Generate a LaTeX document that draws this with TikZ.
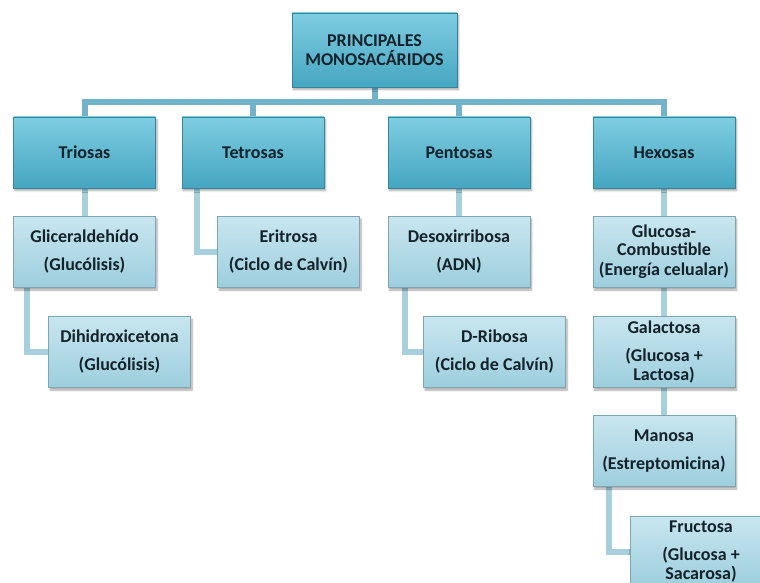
\documentclass[tikz,border=0pt]{standalone}
\usepackage{fontspec}
\setmainfont{Carlito}
\usetikzlibrary{shadows.blur,backgrounds}
\definecolor{catTop}{HTML}{7FCDE1}
\definecolor{catBot}{HTML}{45A6C1}
\definecolor{subTop}{HTML}{C8E6EF}
\definecolor{subBot}{HTML}{9DCEDD}
\definecolor{busBlue}{HTML}{72B3C9}
\definecolor{linkBlue}{HTML}{A7CFDC}
\definecolor{inkBlue}{HTML}{14222B}
\tikzset{
  box/.style={minimum width=142pt, minimum height=71pt, inner sep=2pt, align=center,
    text=inkBlue, font=\fontsize{18}{19}\selectfont\bfseries,
    blur shadow={shadow xshift=1.5pt, shadow yshift=-2.5pt, shadow opacity=35, shadow blur steps=6}},
  cat/.style={box, top color=catTop, bottom color=catBot, draw=catBot!80!black, line width=0.4pt},
  sub/.style={box, top color=subTop, bottom color=subBot, draw=subBot!80!black, line width=0.4pt},
  bus/.style={draw=busBlue, line width=6pt},
  link/.style={draw=linkBlue, line width=6pt},
}

\begin{document}
\begin{tikzpicture}[x=1pt, y=-1pt]
  \useasboundingbox (0,0) rectangle (760,583);
  \node[cat, minimum width=165pt, minimum height=74pt] (root) at (374.5,50) {PRINCIPALES\\MONOSACÁRIDOS};
  \node[cat] (trio) at (84.5,152.5) {Triosas};
  \node[cat] (tetr) at (253,152.5) {Tetrosas};
  \node[cat] (pent) at (459,152.5) {Pentosas};
  \node[cat] (hexo) at (664,152.5) {Hexosas};

  \node[sub] (glic) at (84.5,252) {Gliceraldehído\\[9pt](Glucólisis)};
  \node[sub] (erit) at (288.5,252) {Eritrosa\\[9pt](Ciclo de Calvín)};
  \node[sub] (deso) at (459,252) {Desoxirribosa\\[9pt](ADN)};
  \node[sub, font=\fontsize{18}{18}\selectfont\bfseries] (gluc) at (664,252) {Glucosa-\\Combustible\\[2pt](Energía celualar)};
  \node[sub] (dihi) at (119.5,352) {Dihidroxicetona\\[9pt](Glucólisis)};
  \node[sub] (ribo) at (494.5,352) {D-Ribosa\\[9pt](Ciclo de Calvín)};
  \node[sub] (gala) at (664,352) {Galactosa\\[9pt](Glucosa +\\Lactosa)};
  \node[sub] (mano) at (664,451) {Manosa\\[9pt](Estreptomicina)};
  \node[sub] (fruc) at (701,552) {Fructosa\\[9pt](Glucosa +\\Sacarosa)};

  % connectors behind the boxes
  \begin{pgfonlayer}{background}
    \coordinate (busy) at (374,102);
    \foreach \c in {trio,tetr,pent,hexo}
      \draw[bus] (root.south) -- (root.south |- busy) -| (\c.north);
    \draw[link] (trio) -- (glic);
    \draw[link] (pent) -- (deso);
    \draw[link] (hexo) -- (gluc);
    \draw[link] (gluc) -- (gala);
    \draw[link] (gala) -- (mano);
    \draw[link] ([xshift=15pt]tetr.south west) |- (erit.west);
    \draw[link] ([xshift=14pt]glic.south west) |- (dihi.west);
    \draw[link] ([xshift=17pt]deso.south west) |- (ribo.west);
    \draw[link] ([xshift=16pt]mano.south west) |- (fruc.west);
  \end{pgfonlayer}
\end{tikzpicture}
\end{document}
